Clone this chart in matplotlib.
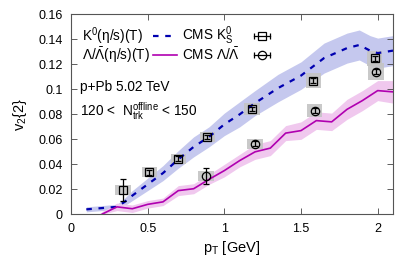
import numpy as np
import matplotlib
matplotlib.use('Agg')
import matplotlib.pyplot as plt
from matplotlib.patches import Rectangle

plt.rcParams['font.family'] = ['Liberation Sans', 'DejaVu Sans']
plt.rcParams['mathtext.fontset'] = 'custom'
plt.rcParams['mathtext.rm'] = 'Liberation Sans'
plt.rcParams['mathtext.it'] = 'Liberation Sans'

# ---- hydro curves ----
k_pt   = [0.1, 0.2, 0.3, 0.35, 0.4, 0.5, 0.6, 0.7, 0.8, 0.9, 1.0, 1.1, 1.2, 1.35, 1.5, 1.65, 1.8, 1.88, 1.95, 2.0, 2.1]
k_v2   = [0.004, 0.005, 0.006, 0.010, 0.015, 0.024, 0.033, 0.044, 0.054, 0.062, 0.072, 0.080, 0.089, 0.101, 0.111, 0.125, 0.133, 0.1355, 0.131, 0.129, 0.131]
k_err  = [0.002, 0.002, 0.002, 0.003, 0.004, 0.005, 0.006, 0.007, 0.008, 0.008, 0.009, 0.010, 0.010, 0.011, 0.011, 0.012, 0.012, 0.012, 0.012, 0.012, 0.012]

l_pt   = [0.2, 0.3, 0.4, 0.5, 0.6, 0.7, 0.8, 0.9, 1.0, 1.1, 1.2, 1.3, 1.4, 1.5, 1.6, 1.7, 1.8, 1.9, 2.0, 2.1]
l_v2   = [0.0, 0.006, 0.0045, 0.008, 0.010, 0.019, 0.0205, 0.028, 0.035, 0.043, 0.050, 0.053, 0.065, 0.067, 0.075, 0.074, 0.084, 0.091, 0.099, 0.098]
l_err  = [0.002, 0.003, 0.003, 0.003, 0.003, 0.004, 0.004, 0.004, 0.005, 0.005, 0.006, 0.006, 0.006, 0.007, 0.007, 0.007, 0.008, 0.008, 0.008, 0.009]

# ---- CMS data ----
cms_k_pt   = [0.34, 0.51, 0.70, 0.89, 1.18, 1.58, 1.98]
cms_k_v2   = [0.0195, 0.0336, 0.0443, 0.0621, 0.0843, 0.1067, 0.1248]
cms_k_stat = [0.0085, 0.002, 0.002, 0.0015, 0.0015, 0.002, 0.002]
cms_k_sys  = [0.004, 0.004, 0.004, 0.004, 0.005, 0.006, 0.006]

cms_l_pt   = [0.88, 1.20, 1.59, 1.99]
cms_l_v2   = [0.0309, 0.0563, 0.0829, 0.1141]
cms_l_stat = [0.0065, 0.002, 0.002, 0.002]
cms_l_sys  = [0.004, 0.004, 0.005, 0.007]

blue = '#0000b0'
magenta = '#b000b0'
dash = (0, (2.5, 3))

fig = plt.figure(figsize=(4.15, 2.71), dpi=100)
ax = fig.add_axes([0.171, 0.209, 0.776, 0.738])

k_pt_a, k_v2_a, k_err_a = np.array(k_pt), np.array(k_v2), np.array(k_err)
l_pt_a, l_v2_a, l_err_a = np.array(l_pt), np.array(l_v2), np.array(l_err)

ax.fill_between(k_pt_a, k_v2_a - k_err_a, k_v2_a + k_err_a, color='#c5c8ee', lw=0, zorder=1)
ax.fill_between(l_pt_a, np.clip(l_v2_a - l_err_a, 0, None), l_v2_a + l_err_a, color='#f0c8ee', lw=0, zorder=1)
ax.plot(k_pt, k_v2, ls=dash, color=blue, lw=1.6, zorder=4)
ax.plot(l_pt, l_v2, ls='-', color=magenta, lw=1.2, zorder=4)

# systematic boxes
for x, y, s in zip(cms_k_pt + cms_l_pt, cms_k_v2 + cms_l_v2, cms_k_sys + cms_l_sys):
    ax.add_patch(Rectangle((x - 0.05, y - s), 0.1, 2 * s, color='#c4c4c4', lw=0, zorder=2, alpha=0.9))

ax.errorbar(cms_k_pt, cms_k_v2, yerr=cms_k_stat, fmt='s', mfc='none', mec='black', ms=6,
            mew=0.9, ecolor='black', elinewidth=0.9, capsize=2.5, capthick=0.9, zorder=5)
ax.errorbar(cms_l_pt, cms_l_v2, yerr=cms_l_stat, fmt='o', mfc='none', mec='black', ms=6,
            mew=0.9, ecolor='black', elinewidth=0.9, capsize=2.5, capthick=0.9, zorder=5)

# gnuplot style key: text left aligned, sample to the right
fs = 9.8
tr = ax.transAxes
rows = [0.891, 0.797]
ax.text(0.034, rows[0], r'K$^0$($\eta$/s)(T)', fontsize=fs, va='center', transform=tr)
ax.text(0.034, rows[1], r'$\Lambda/\bar{\Lambda}$($\eta$/s)(T)', fontsize=fs, va='center', transform=tr)
ax.plot([0.255, 0.33], [rows[0]] * 2, ls=dash, color=blue, lw=1.6, transform=tr)
ax.plot([0.255, 0.33], [rows[1]] * 2, ls='-', color=magenta, lw=1.2, transform=tr)
ax.text(0.345, rows[0], r'CMS K$^0_S$', fontsize=fs, va='center', transform=tr)
ax.text(0.345, rows[1], r'CMS $\Lambda/\bar{\Lambda}$', fontsize=fs, va='center', transform=tr)
for yy, mk in zip(rows, ['s', 'o']):
    ax.plot([0.568, 0.618], [yy, yy], color='black', lw=0.9, transform=tr)
    ax.plot([0.568, 0.618], [yy, yy], ls='none', marker='|', ms=5, mew=0.9, color='black', transform=tr)
    ax.plot([0.593], [yy], ls='none', marker=mk, ms=6, mfc='none', mec='black', mew=0.9, transform=tr)

ax.text(0.06, 0.1015, 'p+Pb 5.02 TeV', fontsize=fs, va='center')
ax.text(0.06, 0.0825, r'120 <  N$_{\rm trk}^{\rm offline}$ < 150', fontsize=fs, va='center')

ax.set_xlim(0, 2.1)
ax.set_ylim(0, 0.16)
ax.set_xticks([0, 0.5, 1, 1.5, 2])
ax.set_xticklabels(['0', '0.5', '1', '1.5', '2'])
ax.set_yticks(np.arange(0, 0.161, 0.02))
ax.set_yticklabels(['0', '0.02', '0.04', '0.06', '0.08', '0.1', '0.12', '0.14', '0.16'])
ax.tick_params(direction='in', top=True, right=True, labelsize=9, length=4, width=0.6,
               color='#444444', pad=6)
for sp in ax.spines.values():
    sp.set_color('#555555')
    sp.set_linewidth(0.8)
ax.set_xlabel(r'p$_{\rm T}$ [GeV]', fontsize=10.5, labelpad=3)
ax.set_ylabel('v$_2${2}', fontsize=10.5, labelpad=7)

fig.savefig('out.png', dpi=100)
